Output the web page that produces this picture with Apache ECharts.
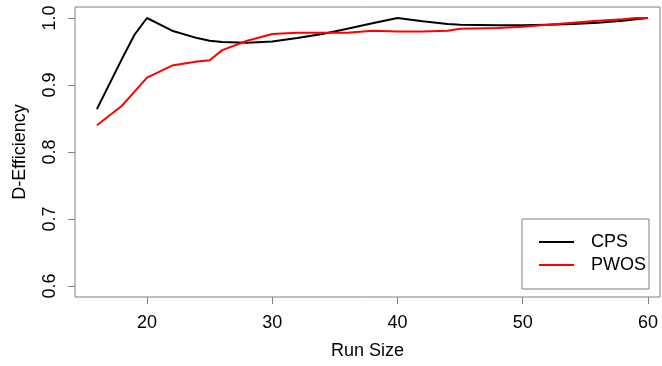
<!DOCTYPE html>
<html>
<head>
<meta charset="utf-8">
<script src="https://cdn.jsdelivr.net/npm/echarts@6/dist/echarts.min.js"></script>
<style>
  html, body { margin: 0; padding: 0; background: #fff; }
  #chart { width: 662px; height: 366px; }
</style>
</head>
<body>
<div id="chart"></div>
<script>
// Run sizes evaluated
const runSizes = [16, 18, 19, 20, 22, 24, 25, 26, 28, 30, 32, 34, 36, 38, 40, 42, 44, 45, 48, 50, 52, 54, 56, 58, 59, 60];
// D-efficiency per design type
const cpsEff  = [0.864, 0.939, 0.975, 1.000, 0.981, 0.970, 0.966, 0.964, 0.963, 0.965, 0.970, 0.976, 0.984, 0.992, 1.000, 0.995, 0.991, 0.990, 0.989, 0.989, 0.990, 0.991, 0.993, 0.996, 0.998, 1.000];
const pwosEff = [0.840, 0.869, 0.890, 0.911, 0.929, 0.935, 0.937, 0.952, 0.966, 0.976, 0.978, 0.978, 0.978, 0.981, 0.980, 0.980, 0.981, 0.984, 0.985, 0.987, 0.990, 0.993, 0.996, 0.998, 1.000, 1.000];
const xTicks = [20, 30, 40, 50, 60];
const yTicks = [0.6, 0.7, 0.8, 0.9, 1.0];
const seriesNames = ['CPS', 'PWOS'];

const font = 'Liberation Sans, Arial, sans-serif';
const frame = '#808080';
const fs = 18;

const pairs = (xs, ys) => xs.map((x, i) => [x, ys[i]]);

const chart = echarts.init(document.getElementById('chart'), null, { renderer: 'canvas' });
chart.setOption({
  animation: false,
  backgroundColor: '#ffffff',
  textStyle: { fontFamily: font },
  grid: {
    left: 75, right: 2, top: 7, bottom: 69,
    show: true, borderColor: frame, borderWidth: 1, backgroundColor: 'transparent'
  },
  xAxis: {
    type: 'value',
    min: 14.25, max: 60.96,
    name: 'Run Size',
    nameLocation: 'middle',
    nameGap: 45,
    nameTextStyle: { fontSize: fs, color: '#000', fontFamily: font },
    splitLine: { show: false },
    axisLine: { show: false },
    axisTick: { show: true, inside: false, length: 7, customValues: xTicks, lineStyle: { color: frame, width: 1 } },
    axisLabel: {
      customValues: xTicks, margin: 17, fontSize: fs, color: '#000', fontFamily: font,
      formatter: v => String(v)
    }
  },
  yAxis: {
    type: 'value',
    min: 0.5836, max: 1.0164,
    name: 'D-Efficiency',
    nameLocation: 'middle',
    nameGap: 46,
    nameTextStyle: { fontSize: fs, color: '#000', fontFamily: font },
    splitLine: { show: false },
    axisLine: { show: false },
    axisTick: { show: true, inside: false, length: 7, customValues: yTicks, lineStyle: { color: frame, width: 1 } },
    axisLabel: {
      customValues: yTicks, rotate: 90, margin: 16, fontSize: fs, color: '#000', fontFamily: font,
      formatter: v => v.toFixed(1)
    }
  },
  legend: {
    orient: 'vertical',
    left: 522, top: 219,
    padding: [14, 3, 15, 17],
    itemGap: 5,
    icon: 'rect',
    itemWidth: 35, itemHeight: 2,
    borderColor: frame, borderWidth: 1, borderRadius: 0,
    backgroundColor: '#fff',
    textStyle: { fontSize: fs, color: '#000', fontFamily: font, padding: [0, 0, 0, 12] },
    data: seriesNames
  },
  series: [
    {
      name: seriesNames[0], type: 'line', symbol: 'none',
      lineStyle: { color: '#000000', width: 2 }, itemStyle: { color: '#000000' },
      data: pairs(runSizes, cpsEff)
    },
    {
      name: seriesNames[1], type: 'line', symbol: 'none',
      lineStyle: { color: '#ff0000', width: 2 }, itemStyle: { color: '#ff0000' },
      data: pairs(runSizes, pwosEff)
    }
  ]
});
</script>
</body>
</html>
